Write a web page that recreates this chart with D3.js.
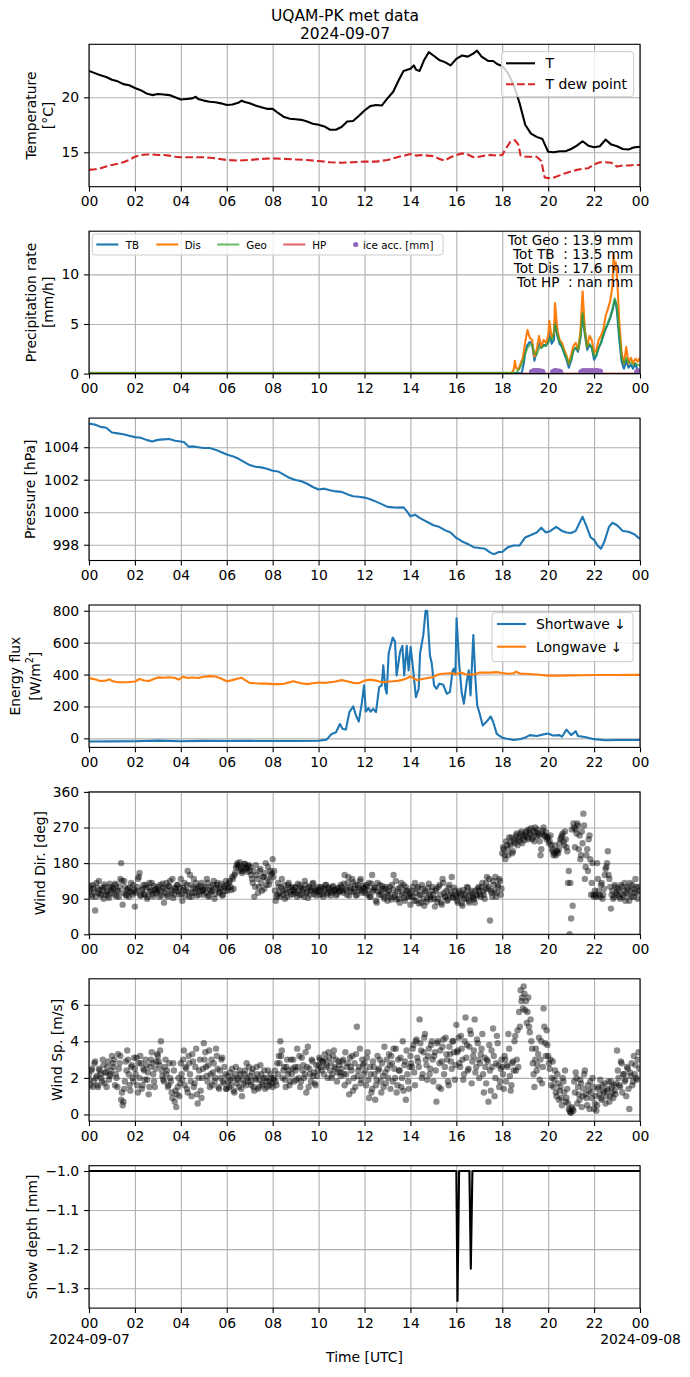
<!DOCTYPE html>
<html>
<head>
<meta charset="utf-8">
<script src="https://cdn.jsdelivr.net/npm/d3@7"></script>
<style>
  body { margin: 0; background: #fff; }
  text { font-family: "DejaVu Sans", sans-serif; }
</style>
</head>
<body>
<div id="chart"></div>
<script>
// ---- data (hour of day, value) ----
const tempT = [[0,22.4],[0.25,22.2],[0.5,22.0],[0.75,21.85],[1,21.6],[1.25,21.45],[1.5,21.2],[1.75,21.1],[2,20.85],[2.25,20.65],[2.5,20.35],[2.75,20.2],[3,20.3],[3.25,20.25],[3.5,20.2],[3.75,20.0],[4,19.8],[4.25,19.85],[4.5,19.9],[4.65,20.05],[4.75,19.85],[5,19.7],[5.25,19.6],[5.5,19.55],[5.75,19.45],[6,19.3],[6.25,19.35],[6.5,19.5],[6.65,19.7],[6.75,19.6],[7,19.45],[7.25,19.25],[7.5,19.1],[7.75,18.95],[8,18.95],[8.25,18.55],[8.5,18.2],[8.75,18.05],[9,18.0],[9.25,17.95],[9.5,17.8],[9.75,17.6],[10,17.5],[10.25,17.35],[10.5,17.05],[10.75,17.05],[11,17.3],[11.25,17.8],[11.5,17.85],[11.75,18.3],[12,18.8],[12.25,19.2],[12.5,19.3],[12.75,19.25],[13,19.9],[13.25,20.5],[13.5,21.6],[13.7,22.4],[14,22.6],[14.15,22.9],[14.25,22.5],[14.4,22.4],[14.6,23.4],[14.8,24.1],[15,23.8],[15.25,23.4],[15.5,23.2],[15.75,22.9],[16,23.5],[16.25,23.8],[16.5,23.7],[16.75,24.0],[16.9,24.25],[17.1,23.7],[17.4,23.3],[17.6,23.3],[17.8,23.0],[18,22.85],[18.25,22.2],[18.5,21.1],[18.75,19.5],[19,17.5],[19.25,16.7],[19.5,16.4],[19.75,16.2],[20,15.05],[20.25,15.0],[20.5,15.1],[20.75,15.1],[21,15.3],[21.25,15.6],[21.5,16.0],[21.75,15.6],[22,15.45],[22.25,15.55],[22.5,16.15],[22.75,15.7],[23,15.55],[23.25,15.3],[23.5,15.25],[23.75,15.45],[24,15.5]]
const tempDew = [[0,13.4],[0.25,13.45],[0.5,13.55],[0.75,13.7],[1,13.85],[1.25,13.95],[1.5,14.1],[1.75,14.3],[2,14.6],[2.25,14.75],[2.5,14.8],[2.75,14.8],[3,14.75],[3.25,14.75],[3.5,14.7],[3.75,14.6],[4,14.55],[4.5,14.55],[5,14.55],[5.5,14.45],[6,14.3],[6.5,14.25],[7,14.3],[7.5,14.4],[8,14.45],[8.5,14.4],[9,14.35],[9.5,14.3],[10,14.2],[10.5,14.1],[11,14.05],[11.5,14.1],[12,14.15],[12.5,14.15],[13,14.3],[13.25,14.45],[13.5,14.6],[13.75,14.7],[14,14.85],[14.25,14.7],[14.5,14.75],[14.75,14.7],[15,14.65],[15.25,14.4],[15.5,14.25],[15.75,14.55],[16,14.75],[16.25,14.9],[16.5,14.8],[16.75,14.55],[17,14.6],[17.25,14.7],[17.5,14.75],[17.75,14.7],[18,14.75],[18.15,15.3],[18.35,15.95],[18.55,16.1],[18.7,15.7],[18.8,14.7],[19,14.6],[19.25,14.6],[19.5,14.6],[19.7,14.2],[19.85,12.7],[20,12.65],[20.25,12.7],[20.5,12.9],[20.75,13.1],[21,13.25],[21.25,13.4],[21.5,13.5],[21.75,13.55],[22,13.9],[22.25,14.1],[22.5,14.1],[22.75,14.05],[23,13.7],[23.25,13.8],[23.5,13.8],[23.75,13.85],[24,13.85]]

const rainTB = [[0,0.05],[18.85,0.05],[18.95,1.2],[19,2.3],[19.1,2.9],[19.2,3.2],[19.3,3.0],[19.4,1.3],[19.5,2.2],[19.6,3.1],[19.7,2.6],[19.8,2.9],[19.9,2.8],[20,3.3],[20.05,4.3],[20.15,3.0],[20.25,3.4],[20.3,5.4],[20.4,3.8],[20.5,3.0],[20.6,2.7],[20.7,2.0],[20.8,1.4],[20.9,0.6],[21,1.3],[21.1,2.4],[21.2,2.6],[21.3,2.2],[21.4,3.5],[21.5,5.9],[21.6,3.9],[21.7,2.4],[21.8,2.9],[21.9,2.6],[22,1.4],[22.1,1.8],[22.2,2.6],[22.3,3.1],[22.4,3.8],[22.5,4.5],[22.6,5.0],[22.7,5.6],[22.8,6.4],[22.85,6.9],[22.9,7.4],[22.95,7.1],[23,6.2],[23.1,3.4],[23.2,1.2],[23.3,0.5],[23.4,1.3],[23.5,0.6],[23.6,0.9],[23.7,0.5],[23.8,1.0],[23.9,0.3],[24,0.0]]
const rainDis = [[0,0.05],[18.4,0.05],[18.5,0.4],[18.55,1.3],[18.6,0.6],[18.7,0.4],[18.8,1.0],[18.9,1.6],[19,3.2],[19.1,4.4],[19.2,3.6],[19.3,3.4],[19.4,1.7],[19.5,2.4],[19.6,3.8],[19.7,2.7],[19.8,3.4],[19.9,3.1],[20,3.8],[20.05,5.3],[20.15,3.7],[20.25,4.0],[20.3,7.1],[20.4,4.4],[20.5,3.4],[20.6,3.1],[20.7,2.4],[20.8,1.8],[20.9,1.0],[21,1.9],[21.1,2.8],[21.2,3.1],[21.3,2.4],[21.4,4.1],[21.5,8.3],[21.6,4.4],[21.7,2.7],[21.8,3.8],[21.9,3.4],[22,2.1],[22.1,2.4],[22.2,3.4],[22.3,3.8],[22.4,4.4],[22.5,5.8],[22.6,6.5],[22.7,7.3],[22.8,8.8],[22.85,12.0],[22.9,10.5],[22.95,11.2],[23,9.8],[23.1,5.1],[23.2,2.1],[23.3,1.0],[23.4,2.7],[23.5,1.0],[23.6,1.6],[23.7,1.0],[23.8,1.5],[23.9,1.2],[24,1.6]]
const rainGeo = [[0,0.08],[18.6,0.08],[18.75,0.5],[18.9,1.2],[19,2.0],[19.1,2.6],[19.2,2.9],[19.3,2.9],[19.4,2.0],[19.5,1.9],[19.6,2.6],[19.7,2.6],[19.8,2.8],[19.9,2.8],[20,3.1],[20.1,3.6],[20.2,3.4],[20.3,5.0],[20.4,4.0],[20.5,3.2],[20.6,2.8],[20.7,2.2],[20.8,1.6],[20.9,1.0],[21,1.4],[21.1,2.3],[21.2,2.6],[21.3,2.4],[21.4,3.6],[21.5,6.1],[21.6,4.2],[21.7,2.7],[21.8,3.0],[21.9,2.7],[22,1.7],[22.1,1.9],[22.2,2.6],[22.3,3.1],[22.4,3.9],[22.5,4.6],[22.6,5.1],[22.7,5.7],[22.8,6.5],[22.9,7.6],[23,6.6],[23.1,4.0],[23.2,1.6],[23.3,1.0],[23.4,1.6],[23.5,1.1],[23.6,1.1],[23.7,0.9],[23.8,1.0],[23.9,0.9],[24,0.8]]
const rainHP = [[18.8,0],[24,0]]
const iceAcc = [[19.3,0.15],[19.35,0.2],[19.4,0.25],[19.45,0.2],[19.5,0.15],[19.55,0.25],[19.6,0.2],[19.65,0.15],[19.7,0.2],[19.75,0.15],[20.22,0.15],[20.27,0.2],[20.32,0.25],[20.37,0.2],[20.42,0.15],[20.47,0.2],[20.52,0.15],[21.45,0.15],[21.5,0.2],[21.55,0.25],[21.6,0.2],[21.65,0.15],[21.7,0.25],[21.75,0.2],[21.8,0.15],[21.85,0.2],[21.9,0.25],[21.95,0.2],[22.0,0.15],[22.05,0.2],[22.1,0.25],[22.15,0.2],[22.2,0.15],[22.25,0.2],[23.88,0.15],[23.93,0.2],[23.98,0.2]]

const pressure = [[0,1005.45],[0.25,1005.4],[0.5,1005.25],[0.75,1005.2],[1,1004.9],[1.25,1004.85],[1.5,1004.8],[1.75,1004.7],[2,1004.62],[2.25,1004.58],[2.5,1004.45],[2.75,1004.35],[3,1004.45],[3.25,1004.48],[3.5,1004.5],[3.75,1004.4],[4,1004.35],[4.15,1004.3],[4.35,1004.02],[4.5,1004.05],[4.75,1004.0],[5,1003.95],[5.25,1003.95],[5.5,1003.85],[5.75,1003.7],[6,1003.55],[6.25,1003.45],[6.5,1003.3],[6.75,1003.1],[7,1002.9],[7.25,1002.8],[7.5,1002.76],[7.75,1002.68],[8,1002.55],[8.25,1002.5],[8.5,1002.3],[8.75,1002.1],[9,1001.98],[9.25,1001.9],[9.5,1001.75],[9.75,1001.55],[10,1001.4],[10.25,1001.45],[10.5,1001.35],[10.75,1001.28],[11,1001.25],[11.25,1001.1],[11.5,1000.98],[11.75,1000.95],[12,1000.9],[12.25,1000.8],[12.5,1000.65],[12.75,1000.5],[13,1000.33],[13.25,1000.3],[13.5,1000.28],[13.7,1000.3],[13.85,1000.05],[14,999.75],[14.2,999.85],[14.4,999.65],[14.6,999.5],[14.8,999.35],[15,999.2],[15.25,999.1],[15.5,998.9],[15.75,998.75],[16,998.42],[16.25,998.2],[16.5,998.05],[16.75,997.85],[17,997.8],[17.25,997.75],[17.5,997.5],[17.65,997.42],[17.85,997.55],[18,997.55],[18.25,997.85],[18.5,997.95],[18.75,997.95],[19,998.45],[19.25,998.6],[19.5,998.75],[19.7,999.05],[19.9,998.75],[20.1,998.85],[20.35,999.1],[20.6,998.85],[20.8,998.75],[21,998.72],[21.2,998.85],[21.35,999.3],[21.5,999.72],[21.65,999.2],[21.85,998.45],[22,998.3],[22.15,997.95],[22.3,997.75],[22.45,998.2],[22.65,999.1],[22.8,999.35],[23,999.2],[23.25,998.85],[23.5,998.8],[23.75,998.65],[24,998.35]]

const shortwave = [[0,-20],[1,-19],[2,-18],[3,-14],[4,-18],[5,-16],[6,-17],[7,-16],[8,-17],[9,-17],[10,-15],[10.35,-8],[10.57,28],[10.76,38],[10.93,90],[11.05,59],[11.19,55],[11.34,164],[11.51,200],[11.63,143],[11.75,105],[11.89,227],[11.98,332],[12.06,168],[12.17,189],[12.27,168],[12.38,185],[12.5,164],[12.64,321],[12.75,332],[12.82,458],[12.91,311],[12.97,280],[13.05,532],[13.23,632],[13.33,605],[13.4,395],[13.55,542],[13.65,580],[13.73,395],[13.84,580],[13.92,426],[14.01,573],[14.1,458],[14.24,258],[14.36,311],[14.42,532],[14.56,647],[14.66,800],[14.73,800],[14.85,521],[14.93,469],[15.03,332],[15.14,311],[15.26,343],[15.43,336],[15.58,280],[15.72,290],[15.84,426],[15.9,437],[15.96,400],[16.01,752],[16.13,458],[16.23,290],[16.33,217],[16.45,353],[16.54,426],[16.62,269],[16.74,647],[16.83,374],[16.91,206],[17,164],[17.15,80],[17.32,105],[17.5,137],[17.61,101],[17.76,28],[17.98,6],[18.2,-2],[18.5,-10],[18.8,-4],[19,5],[19.2,20],[19.5,15],[19.8,25],[20,30],[20.2,18],[20.5,20],[20.6,10],[20.8,55],[21,20],[21.2,45],[21.3,15],[21.6,8],[22,-5],[22.5,-12],[23,-10],[24,-10]]
const longwave = [[0,378],[0.25,370],[0.5,360],[0.75,362],[0.9,370],[1,360],[1.25,352],[1.5,352],[1.75,353],[2,356],[2.2,372],[2.4,363],[2.6,360],[2.8,370],[3,382],[3.25,380],[3.5,383],[3.75,378],[3.9,368],[4.1,386],[4.3,378],[4.5,382],[4.75,378],[5,386],[5.25,390],[5.5,388],[5.75,375],[6,358],[6.25,365],[6.5,375],[6.65,380],[6.8,365],[7,348],[7.25,345],[7.5,343],[7.75,343],[8,340],[8.25,340],[8.5,342],[8.75,352],[8.9,358],[9.1,350],[9.25,345],[9.5,340],[9.75,345],[10,350],[10.25,348],[10.5,352],[10.75,356],[11,365],[11.25,358],[11.5,348],[11.75,345],[12,362],[12.25,368],[12.5,362],[12.75,352],[13,355],[13.25,358],[13.5,362],[13.75,370],[14,388],[14.15,375],[14.3,365],[14.5,372],[14.75,378],[15,385],[15.2,400],[15.4,405],[15.75,408],[16,403],[16.2,413],[16.4,402],[16.75,400],[17,412],[17.25,412],[17.5,412],[17.75,415],[18,410],[18.25,405],[18.5,408],[18.6,418],[18.8,405],[19,405],[19.5,400],[20,393],[20.5,393],[21,395],[21.5,396],[22,397],[22.5,397],[23,397],[23.5,398],[24,398]]

// wind samples every 4 minutes (15 per hour, one row per hour);
// the second set sits 2 minutes after each sample of the first
const windDir = [
  108,122,95,115,60,130,104,112,98,118,126,100,110,92,120,
  105,115,128,96,110,120,180,75,135,100,112,95,118,106,125,
  70,110,140,155,98,115,102,125,90,118,108,130,96,112,104,
  120,95,110,128,80,115,100,122,135,105,92,118,110,125,100,
  140,85,112,98,125,108,150,95,118,105,130,115,100,122,110,
  100,120,140,95,112,108,125,90,118,130,104,115,98,122,110,
  125,118,135,112,140,150,168,180,175,160,155,170,178,165,172,
  160,150,130,95,175,140,120,165,110,145,155,125,170,135,150,
  190,160,85,100,120,95,140,110,90,105,125,118,100,112,108,
  120,95,110,125,100,115,135,105,92,118,110,128,102,115,108,
  112,100,118,95,110,125,105,115,98,120,108,112,102,118,110,
  120,105,150,112,130,98,115,140,108,125,100,118,135,110,122,
  115,125,100,130,95,150,112,118,80,108,125,100,115,90,120,
  85,110,95,125,150,100,88,115,80,130,105,92,120,110,98,
  75,110,95,130,85,120,100,80,115,72,105,90,128,95,110,
  100,70,115,90,125,80,140,105,95,85,118,100,145,92,110,
  95,80,110,100,72,90,105,120,85,98,110,92,80,100,115,
  110,95,130,100,115,145,120,35,105,135,110,95,125,140,100,
  205,215,190,225,200,230,245,210,235,250,225,240,255,230,245,
  250,262,240,255,268,245,235,258,265,250,200,255,270,248,240,
  245,235,225,210,205,200,210,215,240,250,235,260,220,130,0,
  40,72,270,265,280,215,190,260,305,140,200,160,250,100,180,
  95,100,180,110,95,130,100,150,170,210,140,65,110,95,120,
  100,110,90,120,95,130,105,115,85,110,125,95,140,105,120
]
const windDir2 = [
  115,100,125,108,95,118,135,102,112,90,120,106,98,128,112,
  118,100,125,110,95,140,135,105,120,98,115,108,130,100,112,
  105,120,145,98,112,125,100,118,95,130,110,102,122,115,108,
  112,125,98,118,105,130,95,120,110,140,100,115,125,108,118,
  102,118,130,110,160,95,125,105,140,115,98,120,108,130,112,
  115,105,130,98,120,110,135,102,125,115,108,128,100,118,135,
  110,130,120,145,115,155,175,170,182,165,160,178,168,158,175,
  170,140,160,120,150,105,160,130,145,115,180,140,125,160,155,
  145,110,95,130,105,118,100,125,112,95,130,108,120,102,118,
  105,128,100,118,112,95,125,108,120,100,115,130,110,98,120,
  108,120,102,115,125,100,118,110,105,122,112,98,115,108,125,
  110,128,115,100,145,120,108,132,115,98,125,112,140,105,118,
  105,120,112,95,128,108,118,85,130,100,110,122,95,115,105,
  100,120,88,112,95,135,108,90,118,100,125,85,110,95,105,
  95,120,85,105,115,78,100,125,90,110,82,118,100,88,120,
  90,110,82,120,100,75,130,95,110,88,125,105,95,118,100,
  85,105,95,78,112,100,90,118,80,105,95,88,110,98,120,
  100,120,108,90,130,115,140,110,95,125,145,105,120,135,115,
  220,200,235,215,245,225,205,240,230,255,245,235,260,250,238,
  258,245,265,252,240,260,270,248,255,235,215,262,250,258,245,
  230,250,215,200,225,210,205,230,245,255,225,240,210,160,130,
  265,280,220,255,275,250,200,230,275,170,215,240,190,130,100,
  110,95,140,100,125,90,115,165,180,150,120,100,90,125,105,
  115,95,125,100,110,85,120,100,130,95,115,105,120,90,110
]
const windSpeed = [
  2.2,1.6,2.5,1.8,2.9,2.1,1.5,2.4,2.0,3.0,1.7,2.3,2.6,1.9,2.2,
  3.2,2.6,1.6,2.0,3.3,2.8,0.8,0.5,1.4,2.9,3.5,2.2,1.3,2.7,1.8,
  2.5,3.1,1.2,2.0,2.8,1.6,2.4,3.0,1.9,1.1,2.6,3.4,2.2,1.5,2.9,
  3.2,2.7,4.0,2.1,1.8,3.0,2.4,1.6,2.0,1.2,2.8,0.7,0.4,1.5,1.0,
  2.8,1.9,3.5,2.6,1.4,3.2,2.2,1.0,2.9,1.7,3.6,0.6,2.4,1.3,2.0,
  3.9,3.4,2.1,2.7,1.5,3.0,2.3,1.8,3.6,2.5,1.4,2.0,3.1,1.7,2.2,
  1.4,1.8,2.3,1.6,2.0,1.2,2.6,1.9,1.5,2.2,1.0,1.7,2.4,2.8,1.8,
  2.1,1.6,2.5,1.3,1.9,2.2,1.5,2.7,1.7,2.0,1.4,1.8,2.4,1.6,2.0,
  1.5,2.0,1.8,2.8,3.2,4.0,3.5,2.4,1.9,2.6,2.2,1.6,3.0,2.5,1.8,
  2.4,3.6,2.0,1.5,3.1,2.7,2.2,1.2,3.7,2.5,1.8,2.9,2.3,1.6,2.1,
  2.7,3.0,2.4,2.9,3.3,2.6,2.0,3.1,2.8,2.2,3.5,2.5,1.8,2.9,2.3,
  2.5,3.0,1.6,2.2,2.8,1.1,2.6,3.2,2.0,1.5,4.8,2.4,3.6,1.9,2.7,
  2.8,1.6,3.4,0.9,2.2,1.4,2.6,0.8,1.9,2.4,3.0,1.2,2.1,3.7,1.7,
  2.5,3.3,1.4,2.8,3.6,2.0,1.2,3.0,2.4,1.5,4.0,2.7,0.8,2.2,1.4,
  3.2,2.6,3.8,1.6,4.1,2.9,5.2,3.5,2.2,4.2,3.0,1.9,3.6,2.5,4.0,
  1.8,3.4,0.7,4.0,2.8,1.4,3.7,2.2,4.2,3.0,1.6,3.3,2.5,4.0,1.9,
  4.9,3.5,2.8,4.3,3.0,2.2,5.3,3.8,2.5,4.6,1.7,3.2,5.2,2.6,3.9,
  2.0,3.3,4.4,1.2,2.6,3.0,0.7,2.4,3.5,4.7,1.0,2.8,3.9,1.5,2.5,
  2.6,1.4,3.0,2.7,4.4,2.1,1.6,2.9,4.0,2.4,4.6,5.6,6.8,6.4,7.0,
  5.7,5.0,6.4,4.5,4.0,2.8,1.5,3.6,2.7,4.2,3.0,1.7,5.8,3.9,4.6,
  3.2,2.5,1.6,2.9,1.9,1.2,2.2,0.8,1.5,0.5,1.8,2.4,0.9,0.6,0.2,
  0.1,0.3,1.8,2.3,0.6,1.1,1.9,0.4,1.4,2.4,0.9,1.6,0.3,1.2,2.0,
  0.3,1.0,0.5,1.5,1.9,0.8,1.3,1.7,1.0,1.4,0.7,1.8,1.2,1.6,1.1,
  3.5,2.0,1.5,2.8,2.2,1.8,1.0,2.5,0.3,2.1,1.6,3.2,2.7,1.9,3.4
]
const windSpeed2 = [
  1.9,2.4,1.5,2.8,2.0,1.6,2.5,2.2,1.8,2.7,2.3,1.5,2.9,2.1,2.4,
  2.8,3.0,2.2,1.5,2.5,3.2,1.2,0.7,1.8,2.4,3.0,1.6,2.6,2.0,3.1,
  2.2,1.6,2.8,3.2,1.4,2.5,1.9,2.7,2.3,1.5,3.0,2.8,1.8,2.5,3.3,
  2.9,3.5,2.4,1.9,2.6,2.2,1.5,2.8,1.8,0.9,2.4,1.3,1.1,2.0,1.7,
  2.2,3.0,1.6,2.5,1.2,2.8,1.8,3.3,1.5,2.6,1.1,2.0,3.0,0.9,2.5,
  3.0,2.6,1.8,3.5,2.2,1.6,2.8,2.0,3.2,1.5,2.4,3.0,1.8,2.6,1.4,
  2.1,1.5,1.9,2.5,1.3,2.2,1.7,2.0,2.4,1.4,1.9,2.2,1.6,2.0,2.6,
  1.8,2.3,1.5,2.0,2.6,1.4,1.9,2.2,1.6,2.4,2.0,1.5,1.8,2.2,1.7,
  1.9,2.4,1.6,2.2,2.8,3.2,2.0,2.6,1.5,3.0,2.4,1.8,2.2,3.0,2.6,
  1.9,2.6,3.2,1.8,2.4,2.0,3.4,2.6,1.5,2.2,3.0,2.1,1.7,2.7,2.4,
  3.1,2.6,2.9,2.2,3.0,2.7,3.4,2.4,2.0,3.2,2.6,3.0,2.3,2.7,2.1,
  2.9,2.2,3.4,2.6,1.8,3.1,2.4,1.3,2.8,3.3,2.1,2.6,1.7,3.0,2.2,
  2.4,3.1,1.9,2.6,1.2,2.9,2.2,1.6,3.2,2.5,1.8,2.8,1.5,2.3,3.0,
  2.0,2.7,3.2,1.8,2.5,3.6,1.6,2.4,3.1,2.0,1.3,2.9,3.5,1.8,2.6,
  2.8,3.6,2.3,4.0,3.1,2.6,3.9,2.0,3.4,4.4,2.7,3.2,2.2,3.8,3.0,
  3.2,2.4,3.9,1.5,3.5,2.9,4.1,2.6,3.3,1.8,3.7,2.9,4.0,3.4,2.7,
  3.4,4.2,2.6,3.6,1.9,4.0,3.1,2.4,3.7,4.4,2.9,3.5,2.3,4.1,3.0,
  2.8,3.6,2.2,3.1,1.7,2.9,3.8,1.3,2.6,3.2,2.0,4.3,2.7,1.8,3.0,
  2.2,3.2,1.8,2.6,3.6,1.3,2.8,2.4,4.3,3.0,2.6,4.8,6.2,5.8,6.6,
  6.2,5.6,4.8,5.2,3.6,2.2,3.0,2.4,3.3,1.9,4.0,2.6,4.8,3.2,3.8,
  2.8,3.0,2.0,1.5,2.4,1.0,1.7,1.3,0.9,2.0,1.2,0.7,1.4,0.3,0.1,
  0.4,0.2,1.2,2.0,1.5,0.8,1.7,1.0,2.2,1.1,0.5,1.3,1.8,0.9,1.5,
  0.6,0.2,1.4,1.1,0.9,1.6,1.2,0.6,1.3,1.8,1.0,1.5,0.9,1.3,1.7,
  2.4,1.6,2.9,1.2,2.2,1.9,2.6,1.4,2.3,2.8,1.8,2.2,2.0,3.0,2.5
]
const snowDepth = [[0,-1],[16.0,-1],[16.05,-1.333],[16.12,-1],[16.57,-1],[16.63,-1.25],[16.7,-1],[24,-1]]

const rainTotals = ['Tot Geo : 13.9 mm', 'Tot TB  : 13.5 mm', 'Tot Dis : 17.6 mm', 'Tot HP  : nan mm']
const hourTicks = d3.range(0, 25, 2)

// ---- layout ----
const W = 690, H = 1377
const left = 89, right = 640
const top0 = 44.3, step = 186.9, ph = 142.4
const fs = 13.9

const svg = d3.select('#chart').append('svg').attr('width', W).attr('height', H)
const x = d3.scaleLinear().domain([0, 24]).range([left, right])

// title
svg.append('text').attr('x', 345).attr('y', 21.3).attr('text-anchor', 'middle')
  .attr('font-size', 15.5).text('UQAM-PK met data')
svg.append('text').attr('x', 345).attr('y', 39.2).attr('text-anchor', 'middle')
  .attr('font-size', 15.5).text('2024-09-07')

const panels = [
  { dom: [11.87, 24.82], ticks: [15, 20], fmt: d => d, label: ['Temperature', '[°C]'], lx: [31, 48] },
  { dom: [0, 14.35], ticks: [0, 5, 10], fmt: d => d, label: ['Precipitation rate', '[mm/h]'], lx: [31, 48] },
  { dom: [997.03, 1005.79], ticks: [998, 1000, 1002, 1004], fmt: d => d, label: ['Pressure [hPa]'], lx: [29.5] },
  { dom: [-56.7, 836], ticks: [0, 200, 400, 600, 800], fmt: d => d, label: ['Energy flux', 'W/m2'], lx: [15, 35] },
  { dom: [0, 360], ticks: [0, 90, 180, 270, 360], fmt: d => d, label: ['Wind Dir. [deg]'], lx: [39.5] },
  { dom: [-0.37, 7.42], ticks: [0, 2, 4, 6], fmt: d => d, label: ['Wind Sp. [m/s]'], lx: [57] },
  { dom: [-1.351, -0.9864], ticks: [-1.3, -1.2, -1.1, -1.0], fmt: d => d.toFixed(1).replace('-', '\u2212'), label: ['Snow depth [mm]'], lx: [32] }
]

const ax = panels.map((p, i) => {
  const t = top0 + i * step
  const y = d3.scaleLinear().domain(p.dom).range([t + ph, t])
  const g = svg.append('g')
  // clip
  svg.append('clipPath').attr('id', 'clip' + i).append('rect')
    .attr('x', left).attr('y', t).attr('width', right - left).attr('height', ph)
  // grid
  g.append('g').attr('transform', `translate(0,${t + ph})`)
    .call(d3.axisBottom(x).tickValues(hourTicks).tickSize(-ph).tickFormat(''))
    .call(s => s.select('.domain').remove())
    .selectAll('line').attr('stroke', '#b0b0b0').attr('stroke-width', 1.1)
  g.append('g').attr('transform', `translate(${left},0)`)
    .call(d3.axisLeft(y).tickValues(p.ticks).tickSize(-(right - left)).tickFormat(''))
    .call(s => s.select('.domain').remove())
    .selectAll('line').attr('stroke', '#b0b0b0').attr('stroke-width', 1.1)
  const plot = g.append('g').attr('clip-path', `url(#clip${i})`)
  // axes
  const xa = g.append('g').attr('transform', `translate(0,${t + ph})`)
    .call(d3.axisBottom(x).tickValues(hourTicks).tickSize(4.9).tickPadding(4.9).tickSizeOuter(0)
      .tickFormat(h => d3.format('02')(h % 24)))
  const ya = g.append('g').attr('transform', `translate(${left},0)`)
    .call(d3.axisLeft(y).tickValues(p.ticks).tickSize(4.9).tickPadding(4.9).tickSizeOuter(0).tickFormat(p.fmt))
  for (const a of [xa, ya]) {
    a.attr('font-size', null).attr('font-family', null)
    a.select('.domain').remove()
    a.selectAll('line').attr('stroke', '#000').attr('stroke-width', 1.1)
    a.selectAll('text').attr('font-size', fs).attr('fill', '#000')
  }
  // frame goes on top at the end
  const frame = () => g.append('rect').attr('x', left).attr('y', t).attr('width', right - left).attr('height', ph)
    .attr('fill', 'none').attr('stroke', '#000').attr('stroke-width', 1.1)
  // y label
  const cy = t + ph / 2
  p.label.forEach((lab, k) => {
    const tx = g.append('text').attr('transform', `translate(${p.lx[k]},${cy}) rotate(-90)`)
      .attr('text-anchor', 'middle').attr('dominant-baseline', 'central').attr('font-size', fs)
    if (lab === 'W/m2') {
      tx.append('tspan').text('[W/m')
      tx.append('tspan').attr('baseline-shift', 'super').attr('font-size', fs * 0.7).text('2')
      tx.append('tspan').text(']')
    } else tx.text(lab)
  })
  return { g, plot, y, t, xa, frame }
})

const lineOf = y => d3.line().x(d => x(d[0])).y(d => y(d[1]))
function drawLine (a, data, color, opts = {}) {
  a.plot.append('path').datum(data).attr('d', lineOf(a.y))
    .attr('fill', 'none').attr('stroke', color).attr('stroke-width', opts.w || 2.1)
    .attr('stroke-opacity', opts.op || 1).attr('stroke-dasharray', opts.dash || null)
    .attr('stroke-linejoin', 'round')
}

function legendBox (g, x0, y0, w, h) {
  g.append('rect').attr('x', x0).attr('y', y0).attr('width', w).attr('height', h).attr('rx', 3)
    .attr('fill', '#fff').attr('fill-opacity', 0.8).attr('stroke', '#cccccc').attr('stroke-width', 1)
}

// 1 temperature
drawLine(ax[0], tempT, '#000')
drawLine(ax[0], tempDew, '#d62728', { dash: '7.7,3.3' })
legendBox(ax[0].g, 501.6, 51.7, 132, 45)
;[['T', '#000', null, 63.3], ['T dew point', '#d62728', '7.7,3.3', 84.3]].forEach(([lab, c, dash, yy]) => {
  ax[0].g.append('line').attr('x1', 506).attr('x2', 535).attr('y1', yy).attr('y2', yy)
    .attr('stroke', c).attr('stroke-width', 2.1).attr('stroke-dasharray', dash)
  ax[0].g.append('text').attr('x', 545.6).attr('y', yy).attr('dominant-baseline', 'central')
    .attr('font-size', fs).text(lab)
})

// 2 precipitation
drawLine(ax[1], rainTB, '#1f77b4')
drawLine(ax[1], rainDis, '#ff7f0e')
drawLine(ax[1], rainGeo, '#2ca02c', { op: 0.7 })
drawLine(ax[1], rainHP, '#d62728', { op: 0.7 })
ax[1].plot.selectAll('circle.ice').data(iceAcc).join('circle').attr('class', 'ice')
  .attr('cx', d => x(d[0])).attr('cy', d => ax[1].y(d[1])).attr('r', 3.2).attr('fill', '#9467bd')
legendBox(ax[1].g, 92.3, 234, 350.7, 21)
;[['TB', '#1f77b4', 1, 96.3, 125.7], ['Dis', '#ff7f0e', 1, 156.3, 184.7], ['Geo', '#2ca02c', 0.7, 217.3, 246.3], ['HP', '#d62728', 0.7, 283.3, 312.3]]
  .forEach(([lab, c, op, lx, tx]) => {
    ax[1].g.append('line').attr('x1', lx).attr('x2', lx + 22).attr('y1', 244.5).attr('y2', 244.5)
      .attr('stroke', c).attr('stroke-opacity', op).attr('stroke-width', 2.1)
    ax[1].g.append('text').attr('x', tx).attr('y', 244.7).attr('dominant-baseline', 'central')
      .attr('font-size', 10.3).text(lab)
  })
ax[1].g.append('circle').attr('cx', 355.7).attr('cy', 244.5).attr('r', 2.6).attr('fill', '#9467bd')
ax[1].g.append('text').attr('x', 363).attr('y', 244.7).attr('dominant-baseline', 'central')
  .attr('font-size', 10.3).text('ice acc. [mm]')
rainTotals.forEach((s, k) => {
  ax[1].g.append('text').attr('x', 633.3).attr('y', 244.6 + k * 14.1).attr('text-anchor', 'end')
    .attr('font-size', 13.6).style('white-space', 'pre').text(s)
})

// 3 pressure
drawLine(ax[2], pressure, '#1f77b4')

// 4 radiation
drawLine(ax[3], shortwave, '#1f77b4')
drawLine(ax[3], longwave, '#ff7f0e')
legendBox(ax[3].g, 492, 612.7, 141, 49)
;[['Shortwave \u2193', '#1f77b4', 624], ['Longwave \u2193', '#ff7f0e', 646.7]].forEach(([lab, c, yy]) => {
  ax[3].g.append('line').attr('x1', 497).attr('x2', 526).attr('y1', yy).attr('y2', yy)
    .attr('stroke', c).attr('stroke-width', 2.1)
  ax[3].g.append('text').attr('x', 536).attr('y', yy).attr('dominant-baseline', 'central')
    .attr('font-size', fs).text(lab)
})

// 5/6 wind scatter
const windHour = (i, off) => (i * 4 + off) / 60
;[[ax[4], windDir, windDir2], [ax[5], windSpeed, windSpeed2]].forEach(([a, v1, v2]) => {
  const pts = v1.map((v, i) => [windHour(i, 0), v]).concat(v2.map((v, i) => [windHour(i, 2), v]))
  a.plot.selectAll('circle').data(pts).join('circle')
    .attr('cx', d => x(d[0])).attr('cy', d => a.y(d[1])).attr('r', 3.2)
    .attr('fill', '#000').attr('fill-opacity', 0.45)
})

// 7 snow depth
drawLine(ax[6], snowDepth, '#000')

// date under first/last tick of the bottom axis
ax[6].xa.selectAll('.tick').filter(d => d === 0 || d === 24).select('text')
  .append('tspan').attr('x', 0).attr('dy', '1.2em').text(d => d === 0 ? '2024-09-07' : '2024-09-08')
svg.append('text').attr('x', (left + right) / 2).attr('y', 1362).attr('text-anchor', 'middle')
  .attr('font-size', fs).text('Time [UTC]')

ax.forEach(a => a.frame())
</script>
</body>
</html>
